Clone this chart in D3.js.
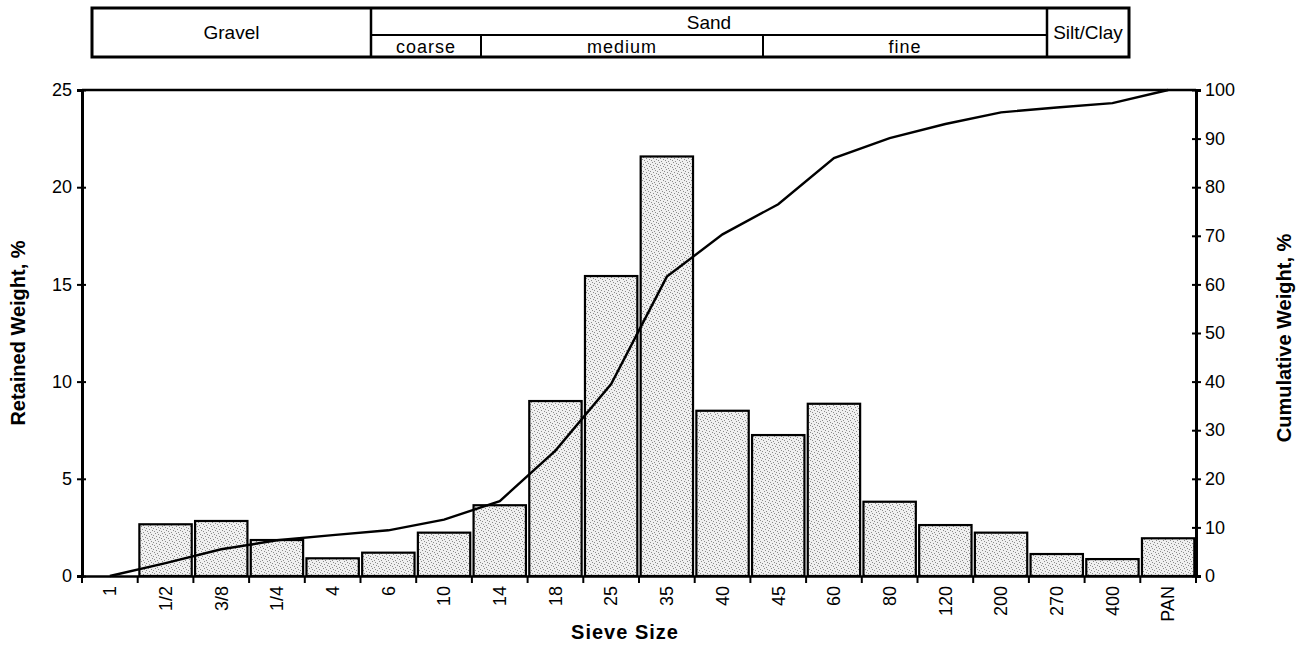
<!DOCTYPE html>
<html>
<head>
<meta charset="utf-8">
<script src="https://cdn.jsdelivr.net/npm/d3@7"></script>
<style>
  body { margin: 0; background: #fff; }
  text { font-family: "Liberation Sans", Arial, sans-serif; fill: #000; }
</style>
</head>
<body>
<div id="chart"></div>
<script>
// Sieve sizes (categories on the x axis)
const sieveSizes = ["1", "1/2", "3/8", "1/4", "4", "6", "10", "14", "18", "25",
                    "35", "40", "45", "60", "80", "120", "200", "270", "400", "PAN"];

// Retained weight, % (bars, left axis)
const retained = [0, 2.66, 2.83, 1.85, 0.91, 1.2, 2.23, 3.64, 9.0, 15.43,
                  21.58, 8.5, 7.25, 8.86, 3.82, 2.62, 2.23, 1.13, 0.87, 1.94];

// Cumulative weight, % (line, right axis)
const cumulative = [0, 2.66, 5.5, 7.35, 8.4, 9.4, 11.6, 15.4, 25.8, 39.5,
                    61.6, 70.3, 76.5, 86.0, 90.1, 93.0, 95.4, 96.4, 97.3, 100];

// Axis ticks
const leftTicks = [0, 5, 10, 15, 20, 25];
const rightTicks = [0, 10, 20, 30, 40, 50, 60, 70, 80, 90, 100];

// Classification header
const classes = ["Gravel", "Sand", "Silt/Clay"];
const sandParts = ["coarse", "medium", "fine"];

const W = 1298, H = 645;
const plotL = 82, plotR = 1196, plotT = 90, plotB = 576;

const svg = d3.select("#chart").append("svg")
    .attr("width", W)
    .attr("height", H);

// stipple texture for the bars
const defs = svg.append("defs");
const pat = defs.append("pattern")
    .attr("id", "stipple")
    .attr("patternUnits", "userSpaceOnUse")
    .attr("width", 7).attr("height", 7);
pat.append("rect").attr("width", 7).attr("height", 7).attr("fill", "#f0f0f0");
[[1, 1], [4, 2], [2, 4], [5, 5], [0, 6], [6, 3], [3, 0]].forEach(p => {
    pat.append("rect").attr("x", p[0]).attr("y", p[1])
        .attr("width", 1).attr("height", 1).attr("fill", "#8c8c8c");
});

// scales
const x = d3.scaleBand()
    .domain(sieveSizes)
    .range([plotL, plotR])
    .paddingInner(0.06)
    .paddingOuter(0.03);

const yLeft = d3.scaleLinear().domain([0, 25]).range([plotB, plotT]);
const yRight = d3.scaleLinear().domain([0, 100]).range([plotB, plotT]);

// bars
svg.append("g")
    .selectAll("rect")
    .data(sieveSizes.map((s, i) => ({ size: s, value: retained[i] })).filter(d => d.value > 0))
    .enter()
    .append("rect")
    .attr("x", d => x(d.size))
    .attr("y", d => yLeft(d.value))
    .attr("width", x.bandwidth())
    .attr("height", d => plotB - yLeft(d.value))
    .attr("fill", "url(#stipple)")
    .attr("stroke", "#000")
    .attr("stroke-width", 2.2);

// cumulative line
const line = d3.line()
    .x((d, i) => x(sieveSizes[i]) + x.bandwidth() / 2)
    .y(d => yRight(d));

svg.append("path")
    .datum(cumulative)
    .attr("d", line)
    .attr("fill", "none")
    .attr("stroke", "#000")
    .attr("stroke-width", 2.4);

// top border of the plot area
svg.append("line")
    .attr("x1", plotL).attr("x2", plotR)
    .attr("y1", plotT).attr("y2", plotT)
    .attr("stroke", "#000").attr("stroke-width", 2.5);

// left axis
const axL = svg.append("g")
    .attr("transform", `translate(${plotL},0)`)
    .call(d3.axisLeft(yLeft).tickValues(leftTicks).tickSize(5).tickPadding(5));
axL.select(".domain").attr("stroke-width", 3);
axL.selectAll(".tick line").attr("x2", 4).attr("x1", -5).attr("stroke-width", 2);
axL.selectAll("text").style("font-size", "18px");

// right axis
const axR = svg.append("g")
    .attr("transform", `translate(${plotR},0)`)
    .call(d3.axisRight(yRight).tickValues(rightTicks).tickSize(5).tickPadding(4));
axR.select(".domain").attr("stroke-width", 3);
axR.selectAll(".tick line").attr("x1", -4).attr("x2", 5).attr("stroke-width", 2);
axR.selectAll("text").style("font-size", "18px");

// bottom axis: labels at band centres, ticks at band edges
const axB = svg.append("g")
    .attr("transform", `translate(0,${plotB})`)
    .call(d3.axisBottom(x).tickSize(0).tickPadding(0));
axB.select(".domain").attr("stroke-width", 2.5);
axB.selectAll("text")
    .style("font-size", "18px")
    .attr("text-anchor", "end")
    .attr("dy", "0.35em")
    .attr("transform", "translate(0,10) rotate(-90)");

const edges = d3.range(sieveSizes.length + 1).map(i => plotL + i * (plotR - plotL) / sieveSizes.length);
svg.append("g")
    .selectAll("line")
    .data(edges)
    .enter()
    .append("line")
    .attr("x1", d => d).attr("x2", d => d)
    .attr("y1", plotB).attr("y2", plotB + 7)
    .attr("stroke", "#000").attr("stroke-width", 2);

// axis titles
svg.append("text")
    .attr("transform", `translate(25,${(plotT + plotB) / 2}) rotate(-90)`)
    .attr("text-anchor", "middle")
    .style("font-size", "20px")
    .style("font-weight", "bold")
    .text("Retained Weight, %");

svg.append("text")
    .attr("transform", `translate(1291,${(plotT + plotB) / 2 + 5}) rotate(-90)`)
    .attr("text-anchor", "middle")
    .style("font-size", "20px")
    .style("font-weight", "bold")
    .text("Cumulative Weight, %");

svg.append("text")
    .attr("x", 625).attr("y", 639)
    .attr("text-anchor", "middle")
    .style("font-size", "20px")
    .style("font-weight", "bold")
    .style("letter-spacing", "1px")
    .text("Sieve Size");

// classification header table
const hTop = 8, hMid = 35, hBot = 57;
const head = svg.append("g");
const bounds = [92, 371, 1047, 1129];
head.append("rect")
    .attr("x", 92).attr("y", hTop)
    .attr("width", 1129 - 92).attr("height", hBot - hTop)
    .attr("fill", "none").attr("stroke", "#000").attr("stroke-width", 3);
head.selectAll("line.div")
    .data([371, 1047])
    .enter().append("line")
    .attr("x1", d => d).attr("x2", d => d)
    .attr("y1", hTop).attr("y2", hBot)
    .attr("stroke", "#000").attr("stroke-width", 2.5);
head.append("line")
    .attr("x1", 371).attr("x2", 1047)
    .attr("y1", hMid).attr("y2", hMid)
    .attr("stroke", "#000").attr("stroke-width", 2);
const sandBounds = [371, 481, 763, 1047];
head.selectAll("line.sub")
    .data([481, 763])
    .enter().append("line")
    .attr("x1", d => d).attr("x2", d => d)
    .attr("y1", hMid).attr("y2", hBot)
    .attr("stroke", "#000").attr("stroke-width", 2);

head.selectAll("text.cls")
    .data(classes)
    .enter().append("text")
    .attr("x", (d, i) => (bounds[i] + bounds[i + 1]) / 2)
    .attr("y", (d, i) => i === 1 ? 29 : 39)
    .attr("text-anchor", "middle")
    .style("font-size", "19px")
    .text(d => d);

head.selectAll("text.sub")
    .data(sandParts)
    .enter().append("text")
    .attr("x", (d, i) => (sandBounds[i] + sandBounds[i + 1]) / 2)
    .attr("y", 53)
    .attr("text-anchor", "middle")
    .style("font-size", "18px")
    .style("letter-spacing", "1px")
    .text(d => d);
</script>
</body>
</html>
